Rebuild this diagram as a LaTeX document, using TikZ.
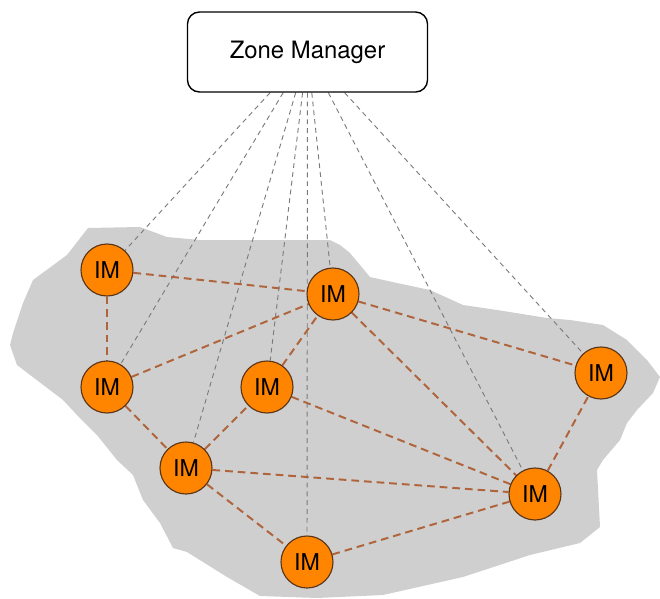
\documentclass[tikz,border=0pt]{standalone}
\usepackage{fontspec}
\setmainfont{TeX Gyre Heros}
\usepackage{xcolor}
\usepackage{tikz}
\usetikzlibrary{backgrounds}
\definecolor{imorange}{HTML}{FF8500}
\definecolor{imborder}{HTML}{5A3418}
\definecolor{linkbrown}{HTML}{B0643C}
\definecolor{blobgray}{HTML}{CFCFCF}
\definecolor{ctrlgray}{HTML}{7A7A7A}

\begin{document}
\begin{tikzpicture}[
  x=0.025cm, y=-0.025cm,
  mgr/.style={draw, line width=1pt, rounded corners=0.3cm, minimum width=6cm, minimum height=2cm, font=\fontsize{17}{19}\selectfont},
  im/.style={draw=imborder, line width=0.8pt, circle, fill=imorange, minimum size=1.3cm, inner sep=0pt, font=\fontsize{16.5}{18}\selectfont},
  ctrl/.style={draw=ctrlgray, line width=0.65pt, dash pattern=on 3.5pt off 2.8pt},
  link/.style={draw=linkbrown, line width=1.4pt, dash pattern=on 5.5pt off 3.5pt}
]
\useasboundingbox (0,0) rectangle (660,599);

\node[mgr] (zm) at (307.5,52) {Zone Manager};

\node[im] (im1) at (107,270) {IM};
\node[im] (im2) at (333,294) {IM};
\node[im] (im3) at (107,387) {IM};
\node[im] (im4) at (267,387) {IM};
\node[im] (im5) at (601,373) {IM};
\node[im] (im6) at (186,468) {IM};
\node[im] (im7) at (535,494) {IM};
\node[im] (im8) at (307,562) {IM};

\begin{scope}[on background layer]
% the zone the IMs live in
\fill[blobgray] (88,228) -- (140,227) -- (167,237) -- (200,240) -- (330,240)
  -- (340,245) -- (350,253) -- (370,277) -- (397,283) -- (430,290) -- (463,305)
  -- (497,310) -- (547,318) -- (570,320) -- (603,325) -- (627,340) -- (647,360)
  -- (660,377) -- (653,393) -- (637,410) -- (627,423) -- (620,440) -- (603,460)
  -- (597,470) -- (600,527) -- (580,543) -- (530,555) -- (463,577) -- (383,595)
  -- (317,598) -- (260,596) -- (227,577) -- (187,552) -- (173,548) -- (160,523)
  -- (143,500) -- (133,475) -- (117,460) -- (97,435) -- (77,415) -- (63,400)
  -- (17,365) -- (10,345) -- (13,333) -- (23,303) -- (33,280) -- (67,255) -- cycle;

\foreach \n in {im1,im2,im3,im4,im5,im6,im7,im8}
  \draw[ctrl] (zm) -- (\n);

\draw[link] (im1) -- (im2);
\draw[link] (im1) -- (im3);
\draw[link] (im3) -- (im2);
\draw[link] (im3) -- (im6);
\draw[link] (im6) -- (im4);
\draw[link] (im4) -- (im2);
\draw[link] (im2) -- (im5);
\draw[link] (im2) -- (im7);
\draw[link] (im4) -- (im7);
\draw[link] (im6) -- (im7);
\draw[link] (im6) -- (im8);
\draw[link] (im8) -- (im7);
\draw[link] (im7) -- (im5);
\end{scope}
\end{tikzpicture}
\end{document}
